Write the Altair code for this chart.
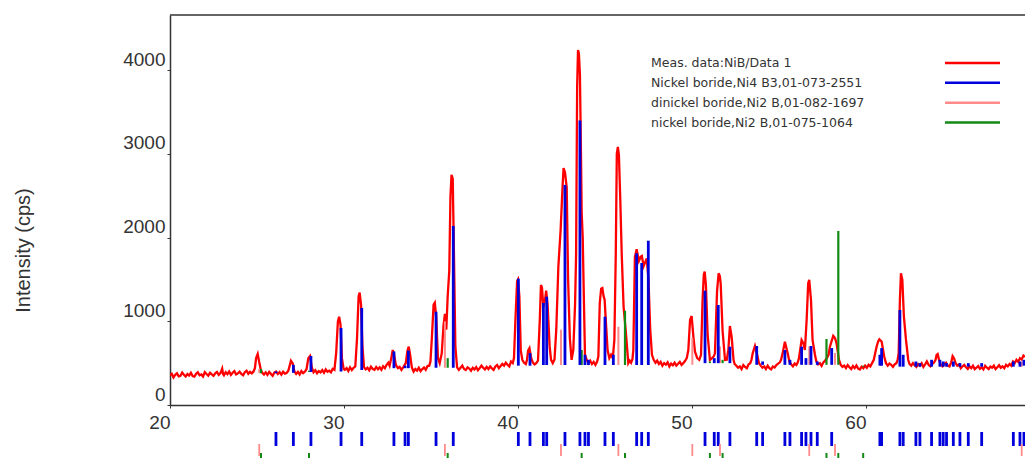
import altair as alt
import pandas as pd

meas = [
    (20.0, 355), (20.1, 372), (20.2, 330), (20.3, 360), (20.4, 378), (20.5, 342),
    (20.6, 350), (20.7, 388), (20.8, 362), (20.9, 340), (21.0, 370), (21.1, 352),
    (21.2, 385), (21.3, 345), (21.4, 338), (21.5, 372), (21.6, 390), (21.7, 355),
    (21.8, 365), (21.9, 340), (22.0, 392), (22.1, 370), (22.2, 350), (22.3, 385),
    (22.4, 365), (22.5, 348), (22.6, 378), (22.7, 395), (22.8, 360), (22.9, 380),
    (23.0, 435), (23.05, 370), (23.1, 355), (23.2, 392), (23.3, 368), (23.4, 400),
    (23.5, 360), (23.6, 385), (23.7, 405), (23.8, 365), (23.9, 378), (24.0, 398),
    (24.1, 370), (24.2, 355), (24.3, 392), (24.4, 410), (24.5, 372), (24.6, 395),
    (24.7, 378), (24.8, 400), (24.88, 440), (24.95, 560), (25.04, 610), (25.12, 520),
    (25.22, 420), (25.3, 385), (25.4, 365), (25.5, 390), (25.6, 360), (25.7, 395),
    (25.8, 372), (25.9, 350), (26.0, 388), (26.1, 400), (26.2, 370), (26.3, 392),
    (26.4, 362), (26.5, 398), (26.6, 375), (26.7, 382), (26.8, 410), (26.88, 470),
    (26.95, 530), (27.05, 500), (27.15, 400), (27.25, 372), (27.35, 395), (27.45, 365),
    (27.55, 405), (27.65, 380), (27.75, 398), (27.85, 430), (27.95, 560), (28.05, 585),
    (28.15, 450), (28.25, 392), (28.35, 415), (28.45, 380), (28.55, 405), (28.65, 390),
    (28.75, 418), (28.85, 385), (28.95, 425), (29.05, 398), (29.15, 410), (29.25, 390),
    (29.35, 432), (29.45, 420), (29.55, 620), (29.65, 1000), (29.72, 1055), (29.8, 960),
    (29.88, 560), (29.98, 430), (30.05, 420), (30.15, 440), (30.25, 405), (30.35, 450),
    (30.45, 418), (30.55, 445), (30.65, 460), (30.75, 800), (30.84, 1300), (30.9, 1342),
    (30.98, 1200), (31.06, 700), (31.15, 450), (31.25, 425), (31.35, 445), (31.45, 415),
    (31.55, 458), (31.65, 430), (31.75, 420), (31.85, 455), (31.95, 428), (32.05, 450),
    (32.15, 420), (32.25, 462), (32.35, 440), (32.45, 480), (32.55, 505), (32.62, 470),
    (32.72, 560), (32.8, 657), (32.88, 600), (32.98, 480), (33.1, 440), (33.2, 455),
    (33.3, 420), (33.4, 450), (33.55, 500), (33.65, 650), (33.72, 697), (33.8, 600),
    (33.9, 450), (34.0, 400), (34.1, 430), (34.2, 410), (34.3, 445), (34.4, 405),
    (34.5, 430), (34.6, 448), (34.7, 420), (34.8, 465), (34.9, 470), (34.97, 520),
    (35.05, 800), (35.15, 1200), (35.22, 1223), (35.3, 1050), (35.4, 560), (35.5, 500),
    (35.62, 620), (35.72, 950), (35.8, 1090), (35.88, 900), (35.96, 1300), (36.05, 1600),
    (36.12, 2500), (36.18, 2750), (36.25, 2700), (36.32, 1800), (36.4, 700), (36.5, 450),
    (36.6, 420), (36.7, 445), (36.8, 470), (36.9, 430), (37.0, 418), (37.1, 450),
    (37.2, 435), (37.3, 410), (37.4, 445), (37.5, 425), (37.6, 452), (37.7, 415),
    (37.8, 440), (37.9, 470), (38.0, 445), (38.1, 425), (38.2, 455), (38.3, 430),
    (38.4, 462), (38.5, 438), (38.6, 420), (38.7, 460), (38.8, 478), (38.9, 440),
    (39.0, 465), (39.1, 490), (39.2, 470), (39.3, 505), (39.4, 480), (39.5, 460),
    (39.6, 520), (39.7, 500), (39.77, 560), (39.85, 1000), (39.95, 1480), (40.0, 1500),
    (40.08, 1300), (40.16, 650), (40.25, 540), (40.35, 505), (40.45, 490), (40.52, 540),
    (40.58, 650), (40.66, 680), (40.76, 560), (40.85, 510), (40.95, 485), (41.05, 500),
    (41.15, 530), (41.25, 1000), (41.32, 1434), (41.38, 1400), (41.46, 1170), (41.55, 1250),
    (41.62, 1366), (41.7, 1200), (41.82, 700), (41.9, 540), (42.0, 500), (42.1, 545),
    (42.2, 900), (42.32, 1650), (42.45, 2090), (42.56, 2600), (42.62, 2830), (42.7, 2780),
    (42.8, 2600), (42.88, 1500), (42.98, 800), (43.08, 540), (43.18, 660), (43.28, 1200),
    (43.34, 1800), (43.4, 3800), (43.45, 4240), (43.5, 4200), (43.56, 3950), (43.62, 3000),
    (43.66, 2300), (43.72, 2000), (43.78, 1340), (43.85, 600), (43.95, 540), (44.05, 500),
    (44.15, 530), (44.25, 490), (44.35, 515), (44.45, 480), (44.55, 520), (44.62, 580),
    (44.7, 1219), (44.78, 1390), (44.85, 1398), (44.92, 1300), (44.98, 1259), (45.04, 1035),
    (45.15, 657), (45.25, 560), (45.35, 600), (45.45, 560), (45.54, 780), (45.62, 1800),
    (45.68, 3000), (45.74, 3083), (45.8, 2990), (45.88, 2450), (45.96, 1816), (46.07, 1171),
    (46.19, 896), (46.34, 500), (46.42, 530), (46.5, 505), (46.58, 550), (46.63, 657),
    (46.72, 1769), (46.82, 1860), (46.95, 1720), (47.05, 1770), (47.12, 1780), (47.22, 1660),
    (47.3, 1700), (47.4, 1750), (47.5, 1500), (47.6, 900), (47.7, 600), (47.8, 540),
    (47.9, 505), (48.0, 530), (48.1, 490), (48.2, 515), (48.3, 470), (48.4, 500),
    (48.5, 482), (48.6, 510), (48.7, 460), (48.8, 495), (48.9, 475), (49.0, 505),
    (49.1, 470), (49.2, 492), (49.3, 515), (49.4, 480), (49.5, 500), (49.6, 525),
    (49.7, 560), (49.79, 657), (49.89, 1015), (49.98, 1063), (50.08, 820), (50.17, 640),
    (50.3, 560), (50.42, 540), (50.52, 600), (50.61, 1260), (50.68, 1560), (50.73, 1593),
    (50.8, 1434), (50.9, 837), (51.03, 538), (51.15, 560), (51.25, 580), (51.32, 617),
    (51.44, 1354), (51.53, 1574), (51.6, 1540), (51.65, 1450), (51.76, 884), (51.9, 538),
    (52.0, 540), (52.09, 657), (52.18, 944), (52.28, 813), (52.39, 538), (52.45, 490),
    (52.55, 470), (52.65, 445), (52.75, 462), (52.85, 430), (52.95, 478), (53.05, 455),
    (53.15, 440), (53.25, 485), (53.35, 500), (53.42, 540), (53.49, 617), (53.62, 705),
    (53.75, 597), (53.85, 500), (53.95, 470), (54.05, 445), (54.15, 462), (54.25, 430),
    (54.35, 470), (54.45, 440), (54.55, 425), (54.65, 460), (54.75, 448), (54.85, 478),
    (54.95, 495), (55.05, 510), (55.12, 540), (55.21, 617), (55.34, 757), (55.5, 617),
    (55.6, 520), (55.7, 485), (55.8, 462), (55.9, 495), (56.0, 478), (56.08, 510),
    (56.15, 560), (56.3, 777), (56.4, 740), (56.49, 657), (56.59, 1015), (56.68, 1454),
    (56.74, 1494), (56.84, 1255), (56.93, 777), (57.07, 597), (57.15, 520), (57.25, 485),
    (57.35, 500), (57.45, 468), (57.55, 510), (57.65, 530), (57.75, 560), (57.85, 600),
    (57.93, 697), (58.02, 760), (58.12, 825), (58.22, 800), (58.31, 737), (58.45, 538),
    (58.55, 480), (58.65, 455), (58.75, 470), (58.85, 440), (58.95, 478), (59.05, 452),
    (59.15, 430), (59.25, 465), (59.35, 440), (59.45, 472), (59.55, 435), (59.65, 425),
    (59.75, 458), (59.85, 440), (59.95, 470), (60.05, 445), (60.15, 480), (60.25, 462),
    (60.35, 500), (60.45, 540), (60.52, 610), (60.61, 697), (60.7, 760), (60.77, 785),
    (60.9, 757), (61.05, 577), (61.15, 500), (61.25, 470), (61.35, 495), (61.45, 480),
    (61.55, 455), (61.65, 485), (61.75, 500), (61.82, 540), (61.88, 621), (61.95, 1255),
    (62.01, 1574), (62.09, 1494), (62.18, 1055), (62.3, 777), (62.43, 538), (62.5, 490),
    (62.6, 470), (62.7, 500), (62.8, 475), (62.9, 455), (63.0, 490), (63.1, 470),
    (63.2, 498), (63.3, 455), (63.4, 485), (63.5, 520), (63.6, 480), (63.7, 462),
    (63.8, 490), (63.9, 505), (64.0, 540), (64.06, 600), (64.12, 610), (64.2, 540),
    (64.3, 480), (64.4, 462), (64.5, 490), (64.6, 505), (64.7, 470), (64.8, 460),
    (64.9, 510), (64.98, 585), (65.06, 560), (65.15, 500), (65.25, 470), (65.35, 485),
    (65.45, 440), (65.55, 462), (65.65, 478), (65.75, 450), (65.85, 430), (65.95, 462),
    (66.05, 440), (66.15, 470), (66.25, 428), (66.35, 445), (66.45, 465), (66.55, 432),
    (66.65, 450), (66.75, 425), (66.85, 468), (66.95, 445), (67.05, 430), (67.15, 460),
    (67.25, 445), (67.35, 470), (67.45, 430), (67.55, 450), (67.65, 475), (67.75, 445),
    (67.85, 462), (67.95, 440), (68.05, 480), (68.15, 462), (68.25, 490), (68.35, 470),
    (68.45, 520), (68.55, 500), (68.65, 540), (68.75, 515), (68.85, 560), (68.95, 545),
    (69.05, 590), (69.14, 575),
]

# ---- reference sticks: Ni4B3 01-073-2551 (blue) ----
blue_pos = [26.09, 27.09, 28.10, 29.83, 31.02, 32.87, 33.51, 33.70, 35.29, 36.28,
            40.02, 40.69, 41.46, 41.65, 42.70, 43.56, 43.85, 44.05, 45.00, 45.48,
            46.82, 47.11, 47.49, 50.75, 51.28, 51.51, 52.18, 53.72, 54.06, 55.34,
            55.63, 56.30, 56.55, 56.84, 57.20, 58.03, 60.80, 60.90, 61.95, 62.14,
            62.87, 63.10, 63.77, 64.25, 64.44, 64.63, 65.02, 65.40, 65.88, 66.65,
            68.47, 68.85, 69.08]
blue_top = [400, 480, 585, 920, 1160, 640, 470, 650, 1115, 2140,
            1510, 620, 1220, 1295, 2630, 3400, 600, 540, 1055, 600,
            1813, 1697, 1963, 1366, 560, 1195, 697, 705, 520, 657,
            540, 697, 560, 705, 520, 680, 600, 680, 1135, 600,
            520, 500, 540, 540, 520, 500, 520, 500, 500, 500,
            520, 520, 540]
blue_base = [380, 385, 395, 400, 418, 440, 440, 440, 445, 445,
             470, 470, 478, 478, 478, 478, 478, 478, 478, 478,
             478, 478, 478, 500, 500, 500, 500, 480, 480, 480,
             480, 480, 480, 480, 480, 480, 470, 470, 458, 458,
             458, 458, 458, 458, 458, 458, 458, 458, 458, 458,
             458, 458, 470]

# ---- dinickel boride Ni2B 01-082-1697 (pink) ----
pink_pos = [25.13, 35.80, 42.47, 45.77, 50.02, 51.61, 56.74, 58.22, 68.95]
pink_top = [430, 1000, 900, 935, 800, 700, 700, 620, 520]
pink_base = [380, 445, 478, 478, 480, 500, 480, 480, 458]

# ---- nickel boride Ni2B 01-075-1064 (green) ----
green_pos = [25.23, 27.99, 35.96, 43.66, 46.15, 51.03, 51.76, 57.73, 58.41, 59.84]
green_top = [430, 410, 560, 657, 1127, 520, 540, 789, 2080, 470]
green_base = [380, 395, 445, 478, 478, 500, 500, 480, 480, 458]

legend_labels = ["Meas. data:NiB/Data 1",
                 "Nickel boride,Ni4 B3,01-073-2551",
                 "dinickel boride,Ni2 B,01-082-1697",
                 "nickel boride,Ni2 B,01-075-1064"]
colors = ["#ff0000", "#0000dd", "#ff8a8a", "#138a13"]

x_ticks = [20, 30, 40, 50, 60]
y_ticks = [0, 1000, 2000, 3000, 4000]

# ---------------------------------------------------------------------------
X_MIN, X_MAX = 20, 69.14
W, H = 855, 390
AX = "#333333"
FONT = "Liberation Sans"

meas_df = pd.DataFrame(meas, columns=["deg", "cps"])
blue_df = pd.DataFrame({"deg": blue_pos, "cps": blue_top, "base": blue_base})
pink_df = pd.DataFrame({"deg": pink_pos, "cps": pink_top, "base": pink_base})
green_df = pd.DataFrame({"deg": green_pos, "cps": green_top, "base": green_base})
leg_df = pd.DataFrame({"label": legend_labels, "row": list(range(len(legend_labels)))})

xscale = alt.Scale(domain=[X_MIN, X_MAX], nice=False, zero=False)
yscale = alt.Scale(domain=[0, 4660], nice=False, zero=False)

xaxis = alt.Axis(values=x_ticks, title=None, grid=False, labelFont=FONT, labelFontSize=19,
                 labelColor=AX, labelAlign="right", labelBaseline="top", labelPadding=5,
                 labelFlush=False, labelOverlap=False, tickSize=3, tickColor=AX,
                 domainColor=AX, domainWidth=1.5, format="d")
yaxis = alt.Axis(values=y_ticks, title="Intensity (cps)", grid=False, labelFont=FONT,
                 labelFontSize=19, labelColor=AX, labelBaseline="alphabetic", labelOffset=-5,
                 labelPadding=2, labelFlush=False, labelOverlap=False, tickSize=3, tickColor=AX,
                 domainColor=AX, domainWidth=1.5, format="d",
                 titleFont=FONT, titleFontSize=20, titleFontWeight="normal", titleColor=AX,
                 titleAngle=270, titleX=-141, titleY=235, titleAlign="center",
                 titleBaseline="alphabetic")

X = alt.X("deg:Q", scale=xscale, axis=xaxis)
Y = alt.Y("cps:Q", scale=yscale, axis=yaxis)

red = alt.Chart(meas_df).mark_line(color=colors[0], strokeWidth=2.3, clip=True).encode(x=X, y=Y)


def sticks(df, color, width):
    return alt.Chart(df).mark_rule(color=color, strokeWidth=width).encode(
        x=X, y=Y, y2=alt.Y2("base:Q"))


def tick_row(df, color, width, top, bottom):
    return alt.Chart(df).mark_rule(color=color, strokeWidth=width).encode(
        x=X, y=alt.value(top), y2=alt.value(bottom))


frame_top = alt.Chart(pd.DataFrame({"a": [0]})).mark_rule(color=AX, strokeWidth=1.5).encode(
    x=alt.value(0), x2=alt.value(W), y=alt.value(0))

main = alt.layer(
    red,
    sticks(pink_df, colors[2], 2),
    sticks(green_df, colors[3], 2.2),
    sticks(blue_df, colors[1], 2.8),
    tick_row(blue_df, colors[1], 2.8, 417, 431),
    tick_row(pink_df, colors[2], 1.8, 429, 441),
    tick_row(green_df, colors[3], 2, 438, 452),
    frame_top,
)

rowY = alt.Y("row:Q", scale=alt.Scale(domain=[0, 3], range=[48, 107.5]), axis=None)
leg_text = alt.Chart(leg_df).mark_text(align="left", baseline="middle", font="DejaVu Sans",
                                       fontSize=12.5, color="#333333").encode(
    x=alt.value(481), y=rowY, text="label:N")
leg_line = alt.Chart(leg_df).mark_rule(strokeWidth=2.5).encode(
    x=alt.value(775), x2=alt.value(830), y=rowY,
    color=alt.Color("label:N", scale=alt.Scale(domain=legend_labels, range=colors), legend=None))
legend = alt.layer(leg_text, leg_line)

chart = alt.layer(main, legend).resolve_scale(y="independent", color="independent").properties(
    width=W, height=H,
    autosize=alt.AutoSizeParams(type="none"),
    padding={"left": 162, "top": 7, "right": 0, "bottom": 53},
    background="white",
).configure_view(strokeWidth=0)

chart.save("out.html", embed_options={"renderer": "svg", "actions": False})
